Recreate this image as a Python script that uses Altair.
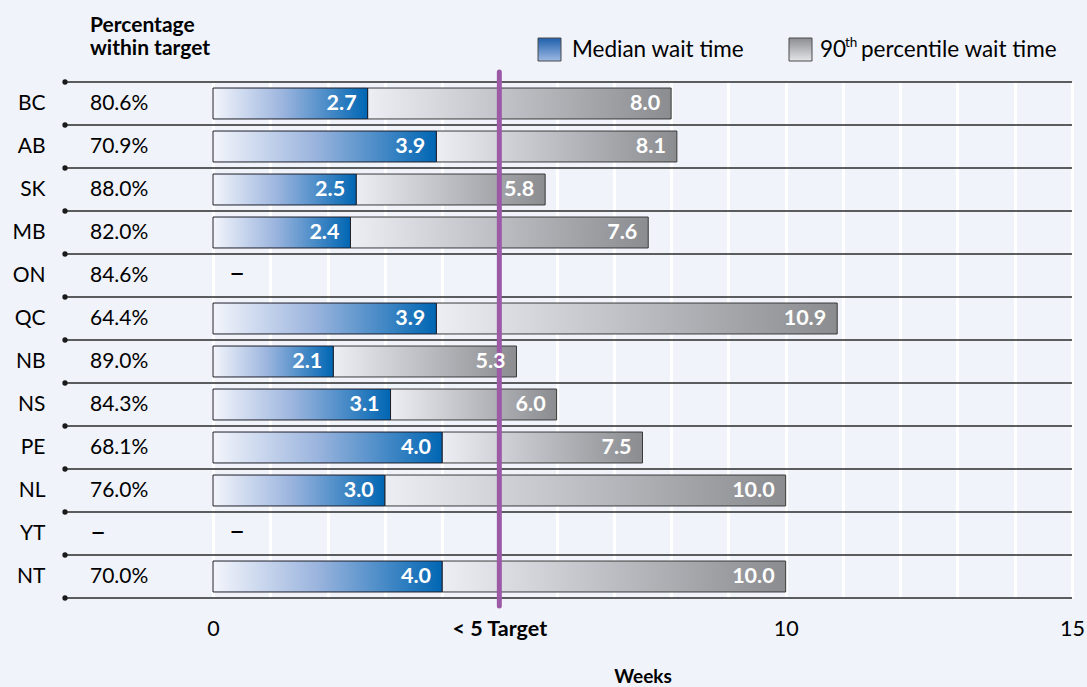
import altair as alt
import pandas as pd

# Wait times by jurisdiction (weeks) and share of patients treated within target
provinces = ["BC", "AB", "SK", "MB", "ON", "QC", "NB", "NS", "PE", "NL", "YT", "NT"]
pct_within = ["80.6%", "70.9%", "88.0%", "82.0%", "84.6%", "64.4%",
              "89.0%", "84.3%", "68.1%", "76.0%", "–", "70.0%"]
median_wait = [2.7, 3.9, 2.5, 2.4, None, 3.9, 2.1, 3.1, 4.0, 3.0, None, 4.0]
p90_wait = [8.0, 8.1, 5.8, 7.6, None, 10.9, 5.3, 6.0, 7.5, 10.0, None, 10.0]
target_weeks = 5
week_ticks = list(range(0, 16))

FONT = "Lato"
W, H = 859, 516
LEFT_EDGE = -148  # start of the row separators, left of the zero line

df = pd.DataFrame({
    "province": provinces,
    "pct": pct_within,
    "median": median_wait,
    "p90": p90_wait,
})
df["zero"] = 0.0
df["median_label"] = [f"{v:.1f}" if v is not None and v == v else "" for v in df["median"]]
df["p90_label"] = [f"{v:.1f}" if v is not None and v == v else "" for v in df["p90"]]

x_scale = alt.Scale(domain=[0, 15], nice=False, zero=True)
y_scale = alt.Scale(paddingInner=0, paddingOuter=0)

x_axis = alt.Axis(
    values=week_ticks, format="d",
    grid=True, gridColor="white", gridWidth=3,
    domain=False, ticks=False,
    labelExpr="datum.value == 5 ? '< 5 Target' : (datum.value % 5 == 0 ? datum.label : '')",
    labelFontWeight=alt.condition("datum.value == 5", alt.value("bold"), alt.value("normal")),
    labelFont=FONT, labelFontSize=21.5, labelColor="black", labelPadding=20,
    labelFlush=False, labelOverlap=False,
    title="Weeks", titleFont=FONT, titleFontSize=19, titleFontWeight="bold",
    titleColor="black", titlePadding=28,
)
y_axis = alt.Axis(
    title=None, domain=False, ticks=False, grid=False,
    labelFont=FONT, labelFontSize=21, labelColor="black",
    labelPadding=168, labelAlign="right",
)


def y_enc(band_pos=None):
    kw = dict(sort=provinces, scale=y_scale, axis=y_axis)
    if band_pos is not None:
        kw["bandPosition"] = band_pos
    return alt.Y("province:N", **kw)


blue_grad = alt.Gradient(
    gradient="linear", x1=0, x2=1, y1=0, y2=0,
    stops=[alt.GradientStop(color="#f3f5fb", offset=0),
           alt.GradientStop(color="#9cb5de", offset=0.45),
           alt.GradientStop(color="#0066b3", offset=1)],
)
gray_grad = alt.Gradient(
    gradient="linear", x1=0, x2=1, y1=0, y2=0,
    stops=[alt.GradientStop(color="#eceef4", offset=0),
           alt.GradientStop(color="#8b8c90", offset=1)],
)
blue_key = alt.Gradient(
    gradient="linear", x1=0, x2=0, y1=0, y2=1,
    stops=[alt.GradientStop(color="#1f5fab", offset=0),
           alt.GradientStop(color="#9db9e4", offset=1)],
)
gray_key = alt.Gradient(
    gradient="linear", x1=0, x2=0, y1=0, y2=1,
    stops=[alt.GradientStop(color="#8c8d91", offset=0),
           alt.GradientStop(color="#e4e5e9", offset=1)],
)

base = alt.Chart(df)
valid = "isValid(datum.median)"
one = alt.Chart(pd.DataFrame({"k": [0]}))

# 90th percentile segment (median -> p90)
p90_bar = base.transform_filter(valid).mark_bar(
    color=gray_grad, stroke="#3a3a3a", strokeWidth=1,
    height=alt.RelativeBandSize(0.72),
).encode(
    x=alt.X("median:Q", scale=x_scale, axis=x_axis),
    x2="p90:Q",
    y=y_enc(),
)

# median segment (0 -> median)
median_bar = base.transform_filter(valid).mark_bar(
    color=blue_grad, stroke="#1e1e2a", strokeWidth=1,
    height=alt.RelativeBandSize(0.72),
).encode(
    x=alt.X("zero:Q", scale=x_scale, axis=x_axis),
    x2="median:Q",
    y=y_enc(),
)

# row separators with end dots
row_rules = base.mark_rule(color="#2a2a2a", strokeWidth=1.5).encode(
    x=alt.value(LEFT_EDGE), x2=alt.value(W), y=y_enc(0),
)
row_dots = base.mark_circle(color="#1a1a1a", size=28, opacity=1).encode(
    x=alt.value(LEFT_EDGE), y=y_enc(0),
)
bottom_rule = one.mark_rule(color="#2a2a2a", strokeWidth=1.5).encode(
    x=alt.value(LEFT_EDGE), x2=alt.value(W), y=alt.value(H),
)
bottom_dot = one.mark_circle(color="#1a1a1a", size=28, opacity=1).encode(
    x=alt.value(LEFT_EDGE), y=alt.value(H),
)

# target line
target_line = one.mark_rule(color="#9b59a6", strokeWidth=5, strokeCap="round").encode(
    x=alt.datum(target_weeks, scale=x_scale), y=alt.value(-10), y2=alt.value(H + 8),
)

label_style = dict(align="right", baseline="middle", dx=-11, color="white",
                   font=FONT, fontSize=21.5, fontWeight="bold")
median_text = base.transform_filter(valid).mark_text(**label_style).encode(
    x=alt.X("median:Q", scale=x_scale, axis=x_axis), y=y_enc(), text="median_label:N",
)
p90_text = base.transform_filter(valid).mark_text(**label_style).encode(
    x=alt.X("p90:Q", scale=x_scale, axis=x_axis), y=y_enc(), text="p90_label:N",
)
missing_text = base.transform_filter("!" + valid).mark_text(
    align="left", baseline="middle", font=FONT, fontSize=28, color="black", dy=-1,
).encode(x=alt.value(16), y=y_enc(), text=alt.value("–"))

# share within target; a missing share is shown as a dash at the same size as the bar dash
pct_text = base.mark_text(
    align="left", baseline="middle", font=FONT, color="black",
).encode(
    x=alt.value(-123), y=y_enc(), text="pct:N",
    size=alt.condition("datum.pct == '–'", alt.value(28), alt.value(21)),
)

head_style = dict(align="left", baseline="alphabetic", font=FONT, fontSize=21,
                  fontWeight="bold", color="black")
head1 = one.mark_text(**head_style).encode(x=alt.value(-123), y=alt.value(-50),
                                          text=alt.value("Percentage"))
head2 = one.mark_text(**head_style).encode(x=alt.value(-123), y=alt.value(-27),
                                          text=alt.value("within target"))

# legend
key_style = dict(stroke="#4a4a4a", strokeWidth=1)
key_blue = one.mark_rect(color=blue_key, **key_style).encode(
    x=alt.value(325), x2=alt.value(348), y=alt.value(-44), y2=alt.value(-21))
key_gray = one.mark_rect(color=gray_key, **key_style).encode(
    x=alt.value(576), x2=alt.value(599), y=alt.value(-44), y2=alt.value(-21))
leg_style = dict(align="left", baseline="alphabetic", font=FONT, fontSize=22.5, color="black")
leg1 = one.mark_text(**leg_style).encode(x=alt.value(359), y=alt.value(-25),
                                        text=alt.value("Median wait time"))
leg2a = one.mark_text(**leg_style).encode(x=alt.value(607), y=alt.value(-25),
                                         text=alt.value("90"))
leg2b = one.mark_text(align="left", baseline="alphabetic", font=FONT, fontSize=13.5,
                      color="black").encode(x=alt.value(632), y=alt.value(-35),
                                            text=alt.value("th"))
leg2c = one.mark_text(**leg_style).encode(x=alt.value(648), y=alt.value(-25),
                                         text=alt.value("percentile wait time"))

chart = alt.layer(
    p90_bar, median_bar, row_rules, row_dots, bottom_rule, bottom_dot,
    target_line, median_text, p90_text, missing_text, pct_text,
    head1, head2, key_blue, key_gray, leg1, leg2a, leg2b, leg2c,
).properties(
    width=W, height=H,
    autosize=alt.AutoSizeParams(type="none"),
    padding={"left": 213, "top": 82, "right": 15, "bottom": 89},
).configure(
    background="#f0f3fa",
).configure_view(stroke=None)

chart.save("out.html", embed_options={"renderer": "svg", "actions": False})
